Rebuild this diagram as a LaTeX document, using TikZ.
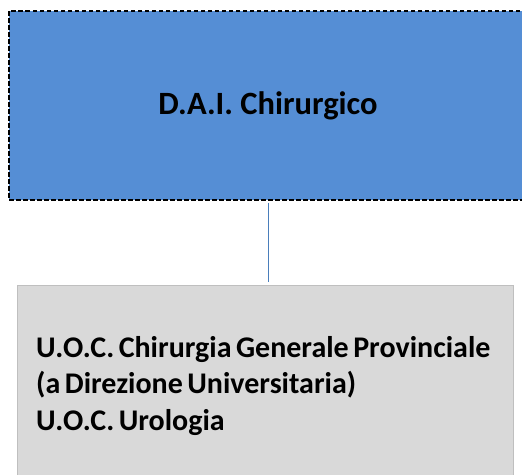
\documentclass[tikz,border=0pt]{standalone}
\usepackage{fontspec}
\setmainfont{Carlito}
\usetikzlibrary{positioning}

\definecolor{daiblue}{HTML}{558ED5}
\definecolor{uocgrey}{HTML}{D9D9D9}
\definecolor{uocedge}{HTML}{BFBFBF}
\definecolor{linkblue}{HTML}{4A7EBB}

\newcommand{\uocfont}{\fontsize{30}{36.5}\selectfont\bfseries\spaceskip=0.15em plus 0.05em\relax}

\begin{document}
\begin{tikzpicture}[
  x=1pt, y=-1pt,
  box/.style={rectangle, inner sep=0pt, font=\bfseries},
  dai/.style={box, draw=black, line width=1.2pt, dash pattern=on 4.5pt off 2.5pt, fill=daiblue, minimum width=518pt, minimum height=189pt, font=\fontsize{32.5}{36}\bfseries},
  uoc/.style={box, draw=uocedge, line width=1pt, fill=uocgrey, minimum width=496pt, minimum height=202pt},
  link/.style={draw=linkblue, line width=0.8pt},
]
\useasboundingbox (0,0) rectangle (522,474);
\clip (0,0) rectangle (522,474);

% --- Dipartimento ---
\node[dai] (dai) at (268,105.5) {D.A.I. Chirurgico};

% --- Unita' operative ---
\node[uoc] (uoc) at (265,386) {};
\node[font=\uocfont, align=left, anchor=west, inner sep=0pt] (uoctext) at (36,386)
  {U.O.C. Chirurgia Generale Provinciale\\
   (a Direzione Universitaria)\\
   U.O.C. Urologia};

% Collegamento
\coordinate (linktop) at (dai.south);
\coordinate (linkbot) at (dai.south |- uoc.north);
\draw[link, shorten <=2pt, shorten >=3pt] (linktop) -- (linkbot);

\end{tikzpicture}
\end{document}
